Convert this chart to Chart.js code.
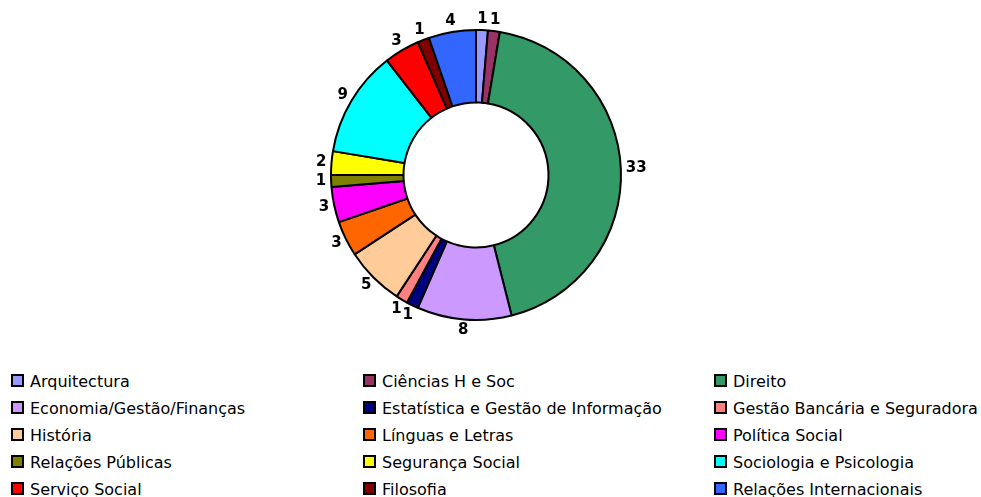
<!DOCTYPE html>
<html lang="pt">

<head>
  <meta charset="UTF-8">
  <title>Cursos</title>
  <script src="https://cdn.jsdelivr.net/npm/chart.js"></script>
  <style>
    body { margin: 0; background: #fff; }
    #wrap { position: relative; width: 981px; height: 497px; }
    #grafico { position: absolute; left: 0; top: 0; }
    #legenda {
      position: absolute; left: 11px; top: 372px;
      display: grid; grid-template-columns: 352px 351px 260px;
      font-family: "DejaVu Sans", sans-serif; font-size: 16px; color: #000;
    }
    #legenda div { height: 27px; line-height: 20px; white-space: nowrap; }
    #legenda span {
      display: inline-block; width: 9px; height: 9px; border: 2px solid #000;
      margin-right: 6px; vertical-align: 0px;
    }
  </style>
</head>

<body>
  <div id="wrap">
    <canvas id="grafico" width="981" height="360"></canvas>
    <div id="legenda"></div>
  </div>

  <script>
    const cursos = ['Arquitectura', 'Ciências H e Soc', 'Direito', 'Economia/Gestão/Finanças',
      'Estatística e Gestão de Informação', 'Gestão Bancária e Seguradora', 'História',
      'Línguas e Letras', 'Política Social', 'Relações Públicas', 'Segurança Social',
      'Sociologia e Psicologia', 'Serviço Social', 'Filosofia', 'Relações Internacionais'];
    const alunos = [1, 1, 33, 8, 1, 1, 5, 3, 3, 1, 2, 9, 3, 1, 4];
    const cores = ['#9999FF', '#993366', '#339966', '#CC99FF', '#000080', '#FF8080', '#FFCC99',
      '#FF6600', '#FF00FF', '#808000', '#FFFF00', '#00FFFF', '#FF0000', '#800000', '#3366FF'];

    // rotulos dos valores por fora do anel
    const rotulos = {
      id: 'rotulos',
      afterDatasetsDraw(chart) {
        const c = chart.ctx;
        c.save();
        c.font = 'bold 15px "DejaVu Sans", sans-serif';
        c.fillStyle = '#000';
        c.textAlign = 'center';
        c.textBaseline = 'middle';
        chart.getDatasetMeta(0).data.forEach((arco, i) => {
          const meio = (arco.startAngle + arco.endAngle) / 2;
          const dx = Math.cos(meio), dy = Math.sin(meio);
          const r = arco.outerRadius + 4;
          const txt = String(chart.data.datasets[0].data[i]);
          const w = c.measureText(txt).width;
          const x = arco.x + dx * r + dx * (w / 2 + 1);
          const y = arco.y + dy * r + dy * 7;
          c.fillText(txt, x, y);
        });
        c.restore();
      }
    };

    const grafico = new Chart(document.getElementById('grafico'), {
      type: 'doughnut',
      data: {
        labels: cursos,
        datasets: [{
          data: alunos,
          backgroundColor: cores,
          borderColor: '#000',
          borderWidth: 2
        }]
      },
      options: {
        responsive: false,
        animation: false,
        cutout: '50%',
        layout: { padding: { top: 29, bottom: 39, left: 0, right: 29 } },
        plugins: {
          legend: { display: false },
          tooltip: { enabled: false }
        }
      },
      plugins: [rotulos]
    });

    const legenda = document.getElementById('legenda');
    cursos.forEach((nome, i) => {
      const item = document.createElement('div');
      item.innerHTML = `<span style="background:${cores[i]}"></span>${nome}`;
      legenda.appendChild(item);
    });
  </script>
</body>

</html>
